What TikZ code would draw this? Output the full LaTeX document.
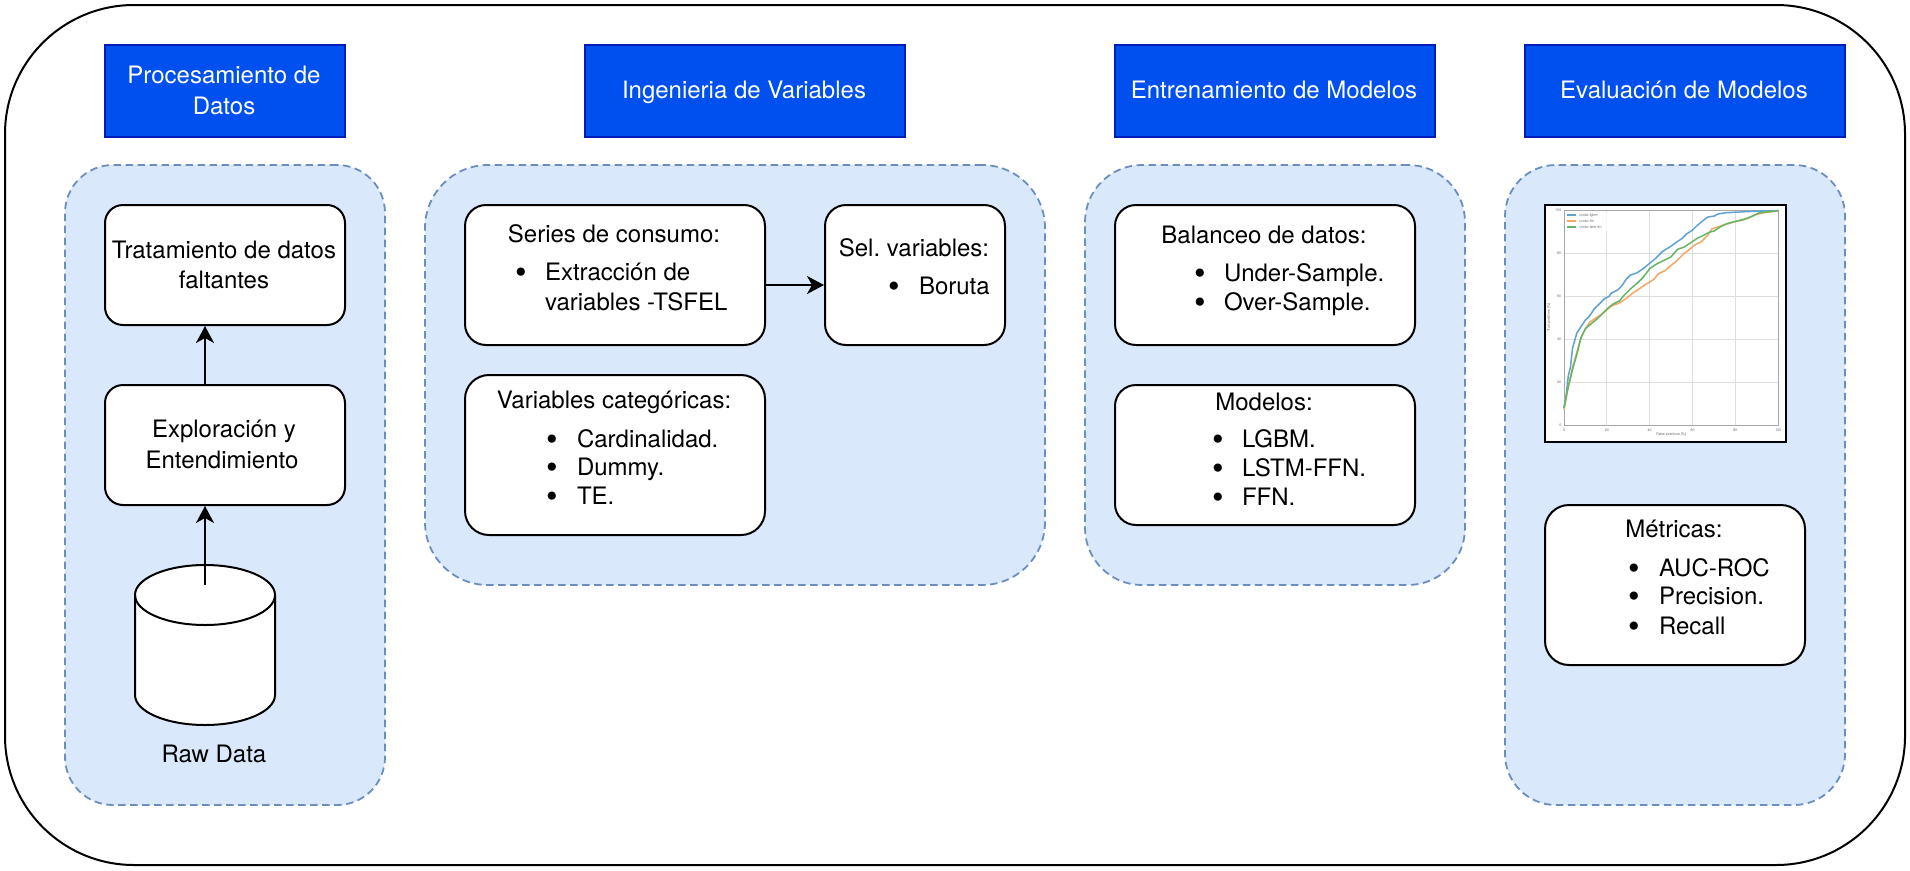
\documentclass[tikz,border=0pt]{standalone}
\usepackage{fontspec}
\setmainfont{TeX Gyre Heros}
\usetikzlibrary{arrows.meta}
\frenchspacing
\definecolor{hfill}{HTML}{0050EF}
\definecolor{hline}{HTML}{001DBC}
\definecolor{pfill}{HTML}{DAE8FC}
\definecolor{pline}{HTML}{6C8EBF}
\definecolor{cblue}{HTML}{5FA3D3}
\definecolor{corange}{HTML}{F6A565}
\definecolor{cgreen}{HTML}{62B562}
\definecolor{cgrid}{HTML}{DEDEDE}
\definecolor{ctext}{HTML}{6A6A6A}
% absolute page placing of text lines inside a node centred on (\cx,\cy)
\newcommand{\setc}[2]{\def\cx{#1}\def\cy{#2}}
\newcommand{\lput}[3]{\makebox[0pt][l]{\hspace*{\dimexpr #1pt-\cx pt\relax}\raisebox{\dimexpr \cy pt-#2pt\relax}[0pt][0pt]{#3}}}
\newcommand{\cput}[3]{\makebox[0pt][l]{\hspace*{\dimexpr #1pt-\cx pt\relax}\raisebox{\dimexpr \cy pt-#2pt\relax}[0pt][0pt]{\makebox[0pt][c]{#3}}}}
% list item: bullet centre at #1, text start at #2, baseline at #3
\newcommand{\iput}[4]{\lput{\the\numexpr #1-6\relax}{#3}{\raisebox{-3.5pt}{\fontsize{33}{33}\selectfont\textbullet}\hspace{\dimexpr #2pt-#1pt-5.55pt\relax}#4}}
\tikzset{
  basefont/.style={font=\fontsize{24}{30}\selectfont},
  frame/.style={draw=black,line width=2pt,fill=white,rounded corners=129pt,inner sep=0pt,minimum width=1900pt,minimum height=860pt},
  header/.style={draw=hline,line width=2.5pt,fill=hfill,text=white,inner sep=0pt,minimum height=92pt,basefont},
  panel/.style={draw=pline,fill=pfill,line width=1.8pt,dash pattern=on 7.5pt off 4.5pt,inner sep=0pt},
  card/.style={draw=black,line width=2pt,fill=white,inner sep=0pt,text=black,basefont},
  cylshape/.style={draw=black,fill=white,line width=2pt},
  conn/.style={line width=2pt,-{Stealth[length=17pt,width=18pt,inset=5pt]}},
  gridl/.style={cgrid,line width=0.8pt},
  curve/.style={line width=1.5pt,line join=round},
  tiny/.style={text=ctext,font=\fontsize{3.6}{4}\selectfont,inner sep=0pt},
}
\begin{document}
\begin{tikzpicture}[x=1pt,y=-1pt]
\useasboundingbox (0,0) rectangle (1910,870);
\node[frame] (outer) at (955,435) {};

% panels
\node[panel,minimum width=320pt,minimum height=640pt,rounded corners=48pt] (p1) at (225,485) {};
\node[panel,minimum width=620pt,minimum height=420pt,rounded corners=63pt] (p2) at (735,375) {};
\node[panel,minimum width=380pt,minimum height=420pt,rounded corners=57pt] (p3) at (1275,375) {};
\node[panel,minimum width=340pt,minimum height=640pt,rounded corners=51pt] (p4) at (1675,485) {};

% headers
\node[header,minimum width=240pt] (h1) at (225,91) {\setc{225}{91}%
  \cput{224}{83}{Procesamiento de}%
  \cput{224}{114}{Datos}};
\node[header,minimum width=320pt] (h2) at (745,91) {\setc{745}{91}\cput{744}{98}{Ingenieria de Variables}};
\node[header,minimum width=320pt] (h3) at (1275,91) {\setc{1275}{91}\cput{1274}{98}{Entrenamiento de Modelos}};
\node[header,minimum width=320pt] (h4) at (1685,91) {\setc{1685}{91}\cput{1684}{98}{Evaluación de Modelos}};

% first column
\node[card,minimum width=240pt,minimum height=120pt,rounded corners=18pt] (trat) at (225,265) {\setc{225}{265}%
  \cput{224}{258}{Tratamiento de datos}%
  \cput{224}{288}{faltantes}};
\node[card,minimum width=240pt,minimum height=120pt,rounded corners=18pt] (expl) at (225,445) {\setc{225}{445}%
  \cput{224}{437}{Exploración y}%
  \cput{222}{468}{Entendimiento}};
\draw[cylshape] (135,595) -- (135,695) arc[start angle=180,end angle=360,x radius=70pt,y radius=30pt]
  -- (275,595) arc[start angle=0,end angle=180,x radius=70pt,y radius=30pt] -- cycle;
\draw[cylshape,fill=none] (135,595) arc[start angle=180,end angle=360,x radius=70pt,y radius=30pt];
\node[basefont,inner sep=0pt,anchor=base] (rawlab) at (214,762) {Raw Data};
\coordinate (cylin) at (205,585);

% second column
\node[card,minimum width=300pt,minimum height=140pt,rounded corners=21pt] (serie) at (615,275) {\setc{615}{275}%
  \cput{614}{242}{Series de consumo:}%
  \iput{521}{545}{280}{Extracción de}%
  \lput{545}{310}{variables -TSFEL}};
\node[card,minimum width=180pt,minimum height=140pt,rounded corners=21pt] (sel) at (915,275) {\setc{915}{275}%
  \cput{914}{256}{Sel. variables:}%
  \iput{894}{919}{294}{Boruta}};
\node[card,minimum width=300pt,minimum height=160pt,rounded corners=24pt] (cat) at (615,455) {\setc{615}{455}%
  \cput{614}{408}{Variables categóricas:}%
  \iput{552}{577}{447}{Cardinalidad.}%
  \iput{552}{577}{475}{Dummy.}%
  \iput{552}{577}{504}{TE.}};

% third column
\node[card,minimum width=300pt,minimum height=140pt,rounded corners=21pt] (bal) at (1265,275) {\setc{1265}{275}%
  \cput{1264}{243}{Balanceo de datos:}%
  \iput{1200}{1224}{281}{Under-Sample.}%
  \iput{1200}{1224}{310}{Over-Sample.}};
\node[card,minimum width=300pt,minimum height=140pt,rounded corners=21pt] (mod) at (1265,455) {\setc{1265}{455}%
  \cput{1264}{410}{Modelos:}%
  \iput{1218}{1242}{447}{LGBM.}%
  \iput{1218}{1242}{476}{LSTM-FFN.}%
  \iput{1218}{1242}{505}{FFN.}};

% fourth column
\node[draw=black,fill=white,line width=2.4pt,minimum width=241pt,minimum height=237pt,inner sep=0pt] (chart) at (1665.5,323.5) {};
\node[card,minimum width=260pt,minimum height=160pt,rounded corners=24pt] (met) at (1675,585) {\setc{1675}{585}%
  \cput{1674}{537}{Métricas:}%
  \iput{1634}{1659}{576}{AUC-ROC}%
  \iput{1634}{1659}{604}{Precision.}%
  \iput{1634}{1659}{634}{Recall}};

% connectors
\draw[conn] (cylin) -- ([xshift=-20pt]expl.south);
\draw[conn] ([xshift=-20pt]expl.north) -- ([xshift=-20pt]trat.south);
\draw[conn] ([yshift=-10pt]serie.east) -- ([yshift=-10pt]sel.west);

% ROC chart
\begin{scope}[x=2.143pt,y=2.143pt,shift={(1564pt,-425pt)}]
  \foreach \v in {20,40,60,80}{
    \draw[gridl] (\v,0) -- (\v,100);
    \draw[gridl] (0,\v) -- (100,\v);
  }
  \draw[cgrid!75!black,line width=0.8pt] (0,0) rectangle (100,100);
  \foreach \v in {0,20,40,60,80,100}{
    \node[tiny] at (\v,-2.6) {\v};
    \node[tiny,anchor=east] at (-1.2,\v) {\v};
  }
  \node[tiny] at (50,-4.6) {False positives [\%]};
  \node[tiny,rotate=90] at (-7,50) {True positives [\%]};
  \draw[cblue,curve] plot coordinates {(0,8)(1,14)(2,23)(3,27)(4,36)(6,43)(8,46)(10,49)(12,51)(14,54)(16,56)(19,59)(21,60)(22,61.5)(25,63)(27,65)(29,68)(31,70)(34,71)(37,73)(40,75.5)(43,78)(46,81)(50,83.5)(52,85)(55,87)(57,89)(60,91)(62,93)(65,95.5)(67,97)(70,97.5)(72,98.5)(75,99)(80,99.3)(90,99.8)(100,100)};
  \draw[corange,curve] plot coordinates {(0,7)(2,18)(4,27)(6,34)(8,41)(10,45)(12,48)(15,50)(18,52)(22,55.5)(26,57)(29,59)(32,61.5)(35,63.5)(38,65.5)(42,68)(44,70.5)(47,72)(50,74.5)(53,77)(56,80)(58,81.5)(61,84)(64,85.5)(67,88.5)(69,91.5)(72,92.5)(75,93.5)(77,94)(80,95)(83,95.5)(86,96.5)(89,98)(93,99)(100,100)};
  \draw[cgreen,curve] plot coordinates {(0,8)(2,18)(4,26)(6,33)(8,41)(10,45)(13,47.5)(16,50)(18,52)(21,55)(23,56.5)(26,58)(28,60.5)(31,63.5)(34,66)(37,69)(40,73)(43,75)(46,76.5)(50,78.5)(53,82)(56,83)(59,85)(62,87)(65,88.5)(68,90)(70,90.5)(73,92.5)(76,94)(80,95)(84,96)(88,97.5)(91,99)(95,99.5)(100,100)};
  \fill[white,opacity=0.8] (0.8,90.7) rectangle (20.6,99.6);
  \draw[cblue,curve] (1.5,97.9) -- (5.6,97.9);
  \draw[corange,curve] (1.5,95.3) -- (5.6,95.3);
  \draw[cgreen,curve] (1.5,92.5) -- (5.6,92.5);
  \node[tiny,anchor=west] at (7.2,97.9) {under-lgbm};
  \node[tiny,anchor=west] at (7.2,95.3) {under-ffn};
  \node[tiny,anchor=west] at (7.2,92.5) {under-lstm-ffn};
\end{scope}
\end{tikzpicture}
\end{document}
